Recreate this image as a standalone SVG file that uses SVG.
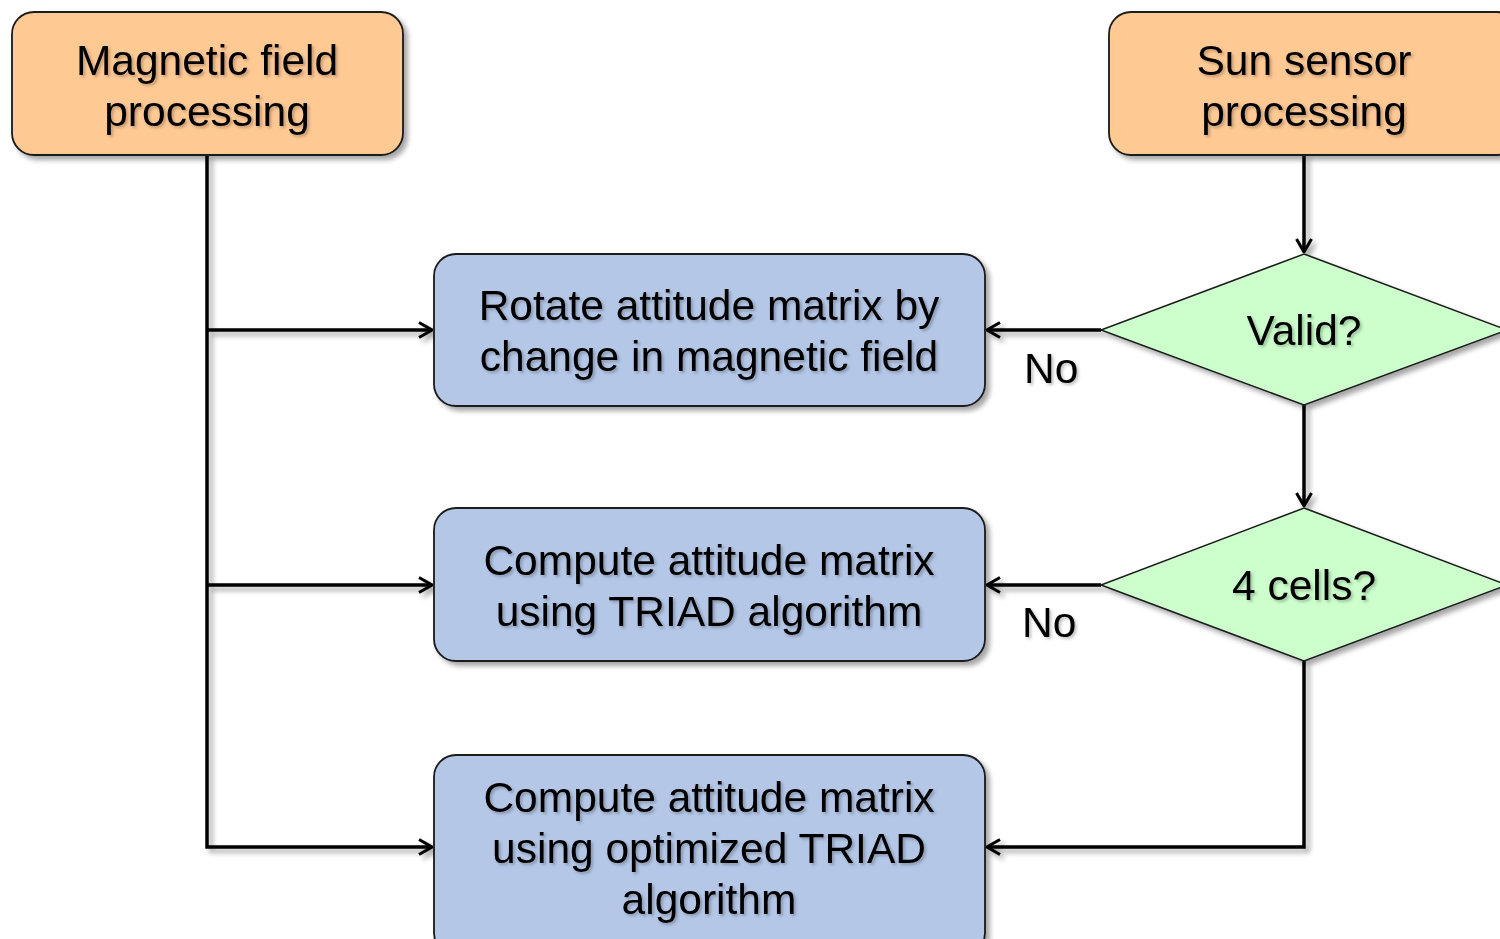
<svg xmlns="http://www.w3.org/2000/svg" width="1500" height="939" viewBox="0 0 1500 939">
<style>
.term{fill:#FFC994;stroke:#1a1a1a;stroke-width:1.8}
.proc{fill:#B4C7E7;stroke:#1a1a1a;stroke-width:1.8}
.dec{fill:#CCFFCC;stroke:#1a1a1a;stroke-width:1.5}
text{font-family:"Liberation Sans",Arial,sans-serif;font-size:42.5px;fill:#000;text-anchor:middle}
.lbl{text-anchor:start}
.conn path{fill:none;stroke:#000;stroke-width:3.5}
</style>
<defs>
<filter id="sh" x="-10%" y="-10%" width="130%" height="130%">
<feDropShadow dx="4" dy="4" stdDeviation="2.5" flood-color="#000" flood-opacity="0.35"/>
</filter>
<filter id="tsh" x="-10%" y="-10%" width="130%" height="140%">
<feDropShadow dx="2" dy="2" stdDeviation="1.5" flood-color="#000" flood-opacity="0.25"/>
</filter>
<marker id="arr" viewBox="0 0 16 18" refX="15" refY="9" markerWidth="16" markerHeight="18" markerUnits="userSpaceOnUse" orient="auto">
<path d="M2,1.5 L15,9 L2,16.5" fill="none" stroke="#000" stroke-width="3"/>
</marker>
</defs>
<g class="conn" filter="url(#sh)">
<path d="M207,155 V847 H432" marker-end="url(#arr)"/>
<path d="M207,330 H432" marker-end="url(#arr)"/>
<path d="M207,585 H432" marker-end="url(#arr)"/>
<path d="M1304,155 V252" marker-end="url(#arr)"/>
<path d="M1304,405 V506" marker-end="url(#arr)"/>
<path d="M1101,330 H987" marker-end="url(#arr)"/>
<path d="M1101,585 H987" marker-end="url(#arr)"/>
<path d="M1304,661 V847 H987" marker-end="url(#arr)"/>
</g>
<g id="mag">
<rect class="term" x="12" y="12" width="391" height="143" rx="22" filter="url(#sh)"/>
<text x="207" y="75" filter="url(#tsh)">Magnetic field</text>
<text x="207" y="126" filter="url(#tsh)">processing</text>
</g>
<g id="sun">
<rect class="term" x="1109" y="12" width="410" height="143" rx="22" filter="url(#sh)"/>
<text x="1304" y="75" filter="url(#tsh)">Sun sensor</text>
<text x="1304" y="126" filter="url(#tsh)">processing</text>
</g>
<g id="rotate">
<rect class="proc" x="434" y="254" width="551" height="152" rx="22" filter="url(#sh)"/>
<text x="709" y="320" filter="url(#tsh)">Rotate attitude matrix by</text>
<text x="709" y="371" filter="url(#tsh)">change in magnetic field</text>
</g>
<g id="triad">
<rect class="proc" x="434" y="508" width="551" height="153" rx="22" filter="url(#sh)"/>
<text x="709" y="575" filter="url(#tsh)">Compute attitude matrix</text>
<text x="709" y="626" filter="url(#tsh)">using TRIAD algorithm</text>
</g>
<g id="opt">
<rect class="proc" x="434" y="755" width="551" height="200" rx="22" filter="url(#sh)"/>
<text x="709" y="812" filter="url(#tsh)">Compute attitude matrix</text>
<text x="709" y="863" filter="url(#tsh)">using optimized TRIAD</text>
<text x="709" y="914" filter="url(#tsh)">algorithm</text>
</g>
<g id="valid">
<polygon class="dec" points="1304,254 1507,330 1304,405 1101,330" filter="url(#sh)"/>
<text x="1304" y="345" filter="url(#tsh)">Valid?</text>
</g>
<g id="cells">
<polygon class="dec" points="1304,508 1507,585 1304,661 1101,585" filter="url(#sh)"/>
<text x="1304" y="600" filter="url(#tsh)">4 cells?</text>
</g>
<g id="labels">
<text class="lbl" x="1024" y="383" filter="url(#tsh)">No</text>
<text class="lbl" x="1022" y="637" filter="url(#tsh)">No</text>
</g>
</svg>
